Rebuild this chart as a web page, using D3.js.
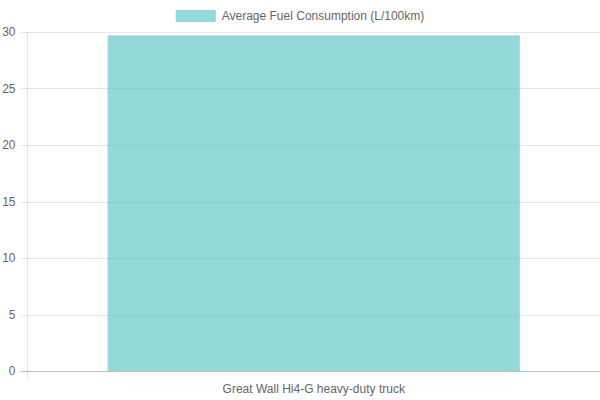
<!DOCTYPE html>
<html><head><meta charset="utf-8">
<script src="https://cdn.jsdelivr.net/npm/d3@7"></script>
<style>body{margin:0;background:#fff;}svg{display:block;font-family:"Liberation Sans",Arial,sans-serif;}</style>
</head><body>
<svg id="c" width="600" height="400"></svg>
<script>
const categories = ["Great Wall Hi4-G heavy-duty truck"];
const values = [29.7];
const seriesLabel = "Average Fuel Consumption (L/100km)";
const yTicks = [0, 5, 10, 15, 20, 25, 30];

const svg = d3.select("#c");
const W = 600, H = 400;
const m = {left: 27.5, right: 0, top: 32, bottom: 29};
const x = d3.scaleBand().domain(categories).range([m.left, W - m.right]).paddingInner(0).paddingOuter(0);
const y = d3.scaleLinear().domain([0, 30]).range([H - m.bottom, m.top]);

const fill = "rgba(75,192,192,0.6)";
const gridC = "rgba(0,0,0,0.1)";
const textC = "#666";

// grid
svg.append("g").selectAll("line").data(yTicks).join("line")
  .attr("x1", m.left - 7).attr("x2", W - m.right)
  .attr("y1", d => Math.round(y(d)) + 0.5).attr("y2", d => Math.round(y(d)) + 0.5)
  .attr("stroke", d => d === 0 ? "rgba(0,0,0,0.25)" : gridC).attr("stroke-width", 1);
// left axis line
svg.append("line").attr("x1", m.left).attr("x2", m.left)
  .attr("y1", m.top).attr("y2", H - m.bottom + 7)
  .attr("stroke", gridC);

// y labels
svg.append("g").selectAll("text").data(yTicks).join("text")
  .attr("x", m.left - 12).attr("y", d => y(d)).attr("dy", "0.35em")
  .attr("text-anchor", "end").attr("font-size", 12).attr("fill", textC)
  .text(d => d);

// bars
const bw = x.bandwidth() * 0.72;
svg.append("g").selectAll("rect").data(categories).join("rect")
  .attr("x", d => x(d) + (x.bandwidth() - bw) / 2)
  .attr("width", bw)
  .attr("y", (d, i) => y(values[i]))
  .attr("height", (d, i) => y(0) - y(values[i]))
  .attr("fill", fill);

// x labels
svg.append("g").selectAll("text").data(categories).join("text")
  .attr("x", d => x(d) + x.bandwidth() / 2).attr("y", H - m.bottom + 18).attr("dy", "0.35em")
  .attr("text-anchor", "middle").attr("font-size", 12).attr("fill", textC)
  .text(d => d);

// legend
const legG = svg.append("g");
const lt = legG.append("text").attr("y", 16).attr("dy", "0.35em").attr("font-size", 12).attr("fill", textC).text(seriesLabel);
const tw = lt.node().getComputedTextLength();
const total = 40 + 6 + tw;
const lx = (W - total) / 2;
legG.append("rect").attr("x", lx).attr("y", 10).attr("width", 40).attr("height", 12).attr("fill", fill);
lt.attr("x", lx + 46);
</script>
</body></html>
